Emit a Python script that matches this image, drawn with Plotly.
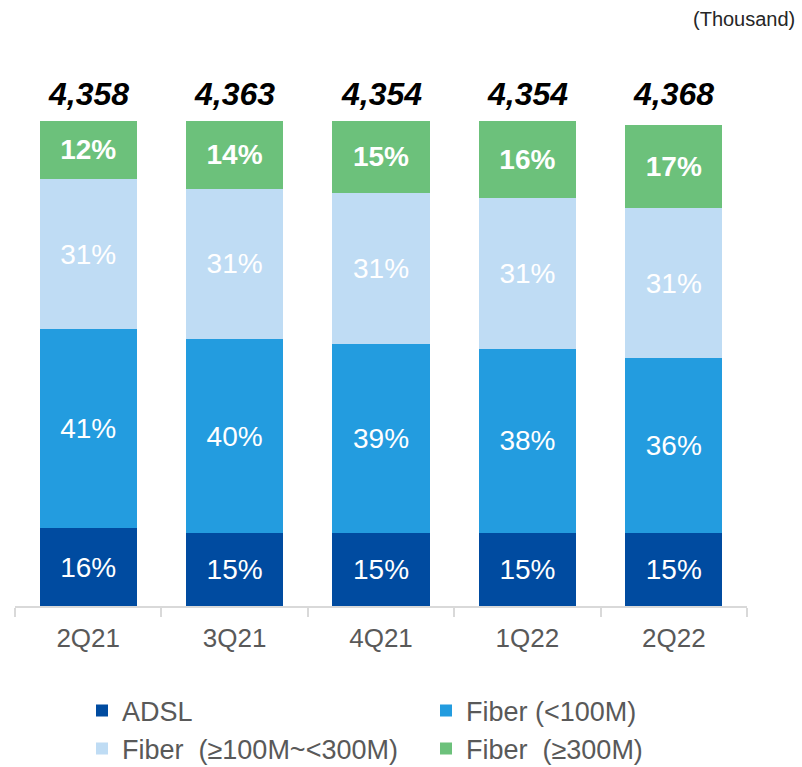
import plotly.graph_objects as go

quarters = ["2Q21", "3Q21", "4Q21", "1Q22", "2Q22"]
totals = ["4,358", "4,363", "4,354", "4,354", "4,368"]
adsl = [16, 15, 15, 15, 15]
fiber_lt100 = [41, 40, 39, 38, 36]
fiber_100_300 = [31, 31, 31, 31, 31]
fiber_ge300 = [12, 14, 15, 16, 17]
total_label_level = [100, 100, 100, 100, 100]

FONT = "Liberation Sans, Arial, sans-serif"

series = [
    ("ADSL", adsl, "#004BA0", False),
    ("Fiber (<100M)", fiber_lt100, "#239CDF", False),
    ("Fiber  (≥100M~<300M)", fiber_100_300, "#BFDCF4", False),
    ("Fiber  (≥300M)", fiber_ge300, "#6CC17B", True),
]

fig = go.Figure()
for name, vals, color, bold in series:
    txt = [f"<b>{v}%</b>" if bold else f"{v}%" for v in vals]
    fig.add_trace(go.Bar(
        name=name, x=quarters, y=vals, marker=dict(color=color, line=dict(width=0)),
        text=txt, textposition="inside", insidetextanchor="middle",
        textangle=0, constraintext="none",
        textfont=dict(family=FONT, size=28, color="white"),
        hoverinfo="skip",
    ))

for q, t, lvl in zip(quarters, totals, total_label_level):
    fig.add_annotation(x=q, y=lvl, text=f"<b><i>{t}</i></b>", showarrow=False,
                       yanchor="middle", yshift=27,
                       font=dict(family=FONT, size=32, color="black"))

fig.add_annotation(xref="paper", yref="paper", x=(797 - 15) / 732, y=1 + (71.5 - 18) / 534.5,
                   text="(Thousand)", showarrow=False, xanchor="right", yanchor="middle",
                   font=dict(family=FONT, size=20, color="#262626"))

fig.update_layout(
    width=802, height=767,
    barmode="stack", bargap=0.337,
    paper_bgcolor="white", plot_bgcolor="white",
    margin=dict(l=15, r=55, t=71.5, b=161, autoexpand=False),
    font=dict(family=FONT),
    showlegend=True,
    legend=dict(
        orientation="h", xref="paper", yref="paper",
        x=(82 - 15) / 732, xanchor="left", y=-0.1506, yanchor="top",
        entrywidth=299, entrywidthmode="pixels",
        font=dict(family=FONT, size=27, color="#595959"),
        traceorder="normal", itemclick=False, itemdoubleclick=False,
    ),
    xaxis=dict(
        type="category", showline=True, linecolor="#D9D9D9", linewidth=1.5,
        ticks="outside", tickson="boundaries", ticklen=9, tickcolor="#D9D9D9",
        tickwidth=1.5, tickangle=0, ticklabelstandoff=8,
        tickfont=dict(family=FONT, size=26, color="#595959"),
        showgrid=False, zeroline=False, fixedrange=True,
    ),
    yaxis=dict(range=[0, 110], visible=False, showgrid=False, zeroline=False,
               fixedrange=True),
)

fig.write_html("out.html", config={"displayModeBar": False},
               post_script="document.body.style.margin='0';")
